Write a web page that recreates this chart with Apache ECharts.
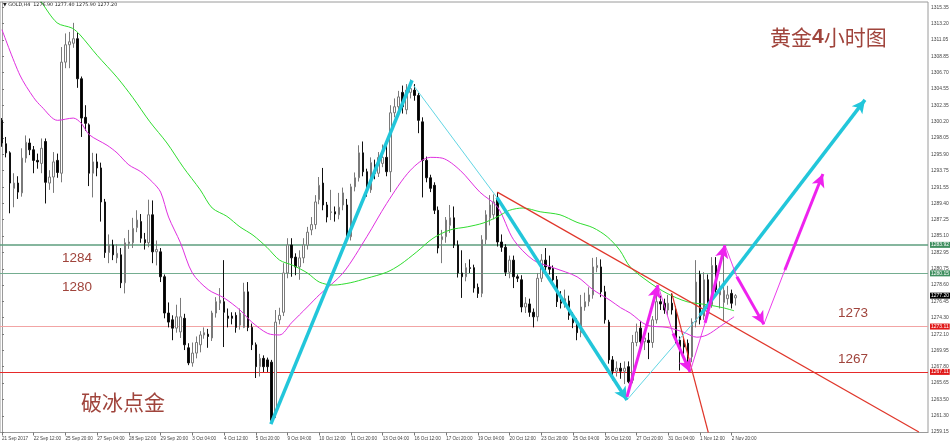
<!DOCTYPE html>
<html><head><meta charset="utf-8">
<script src="https://cdn.jsdelivr.net/npm/echarts@6/dist/echarts.min.js"></script>
<style>html,body{margin:0;padding:0;background:#fff}#c{width:950px;height:444px}</style>
</head><body><div id="c"></div>
<script>
// ---------- DATA ----------
const tradingDays = ['21 Sep','22 Sep','25 Sep','26 Sep','27 Sep','28 Sep','29 Sep','2 Oct','3 Oct','4 Oct','5 Oct','6 Oct',
  '9 Oct','10 Oct','11 Oct','12 Oct','13 Oct','16 Oct','17 Oct','18 Oct','19 Oct','20 Oct','23 Oct','24 Oct','25 Oct',
  '26 Oct','27 Oct','30 Oct','31 Oct','1 Nov','2 Nov','3 Nov'];
const hours = ['00:00','04:00','08:00','12:00','16:00','20:00'];
const firstTickLabel = '21 Sep 2017';
const headerText = '\u25BC GOLD,H4  1276.90 1277.40 1275.90 1277.20';

// [open, close, low, high]
const candles = [
[1300.4,1297.4,1296.9,1300.7],[1297.3,1296.1,1295.5,1298.2],[1296.1,1292.1,1288.1,1296.3],[1291.4,1292.1,1288.9,1293.4],
[1292.1,1290.9,1290.0,1293.0],[1290.8,1295.4,1290.3,1296.7],[1295.4,1297.5,1294.8,1298.4],[1297.4,1296.5,1295.8,1298.0],
[1296.5,1295.1,1293.4,1297.0],[1295.1,1294.9,1294.0,1296.0],[1294.7,1296.7,1293.4,1298.0],[1297.6,1292.2,1289.4,1298.0],
[1292.1,1292.9,1291.2,1293.8],[1292.9,1294.9,1290.8,1296.2],[1295.1,1293.5,1292.8,1296.0],[1293.4,1308.1,1292.2,1310.1],
[1308.1,1310.4,1307.3,1311.9],[1310.4,1310.8,1307.3,1312.1],[1310.6,1311.2,1310.0,1313.3],[1311.2,1305.9,1304.7,1312.0],
[1305.9,1300.7,1298.2,1306.2],[1300.8,1300.0,1299.0,1302.4],[1299.8,1293.4,1291.7,1300.0],[1293.4,1294.9,1290.2,1296.1],
[1294.9,1294.1,1293.0,1296.0],[1294.1,1289.6,1287.0,1294.8],[1289.6,1282.9,1282.2,1290.0],[1282.9,1283.9,1281.5,1285.3],
[1283.9,1282.6,1281.9,1284.6],[1282.2,1282.8,1281.5,1284.0],[1282.6,1278.9,1278.2,1283.5],[1278.9,1284.2,1277.5,1284.8],
[1284.1,1284.3,1283.4,1285.9],[1284.2,1286.1,1283.5,1287.5],[1286.2,1287.2,1285.6,1288.5],[1287.0,1284.8,1284.2,1288.0],
[1284.6,1284.2,1283.3,1285.5],[1284.2,1287.9,1283.6,1289.9],[1287.9,1283.0,1281.5,1289.8],[1283.0,1283.3,1281.2,1284.5],
[1283.0,1279.7,1279.0,1283.5],[1279.7,1274.9,1274.2,1280.0],[1274.9,1273.7,1273.0,1276.3],[1274.0,1272.9,1271.3,1274.6],
[1272.9,1274.4,1272.3,1276.0],[1272.4,1274.4,1271.6,1276.9],[1274.2,1270.7,1270.0,1274.8],[1270.3,1268.3,1268.0,1270.9],
[1268.3,1269.6,1267.8,1271.0],[1269.6,1271.0,1268.9,1271.8],[1270.7,1272.0,1269.7,1272.5],[1272.0,1272.3,1271.5,1273.0],
[1272.1,1271.8,1270.3,1272.8],[1271.6,1274.9,1271.2,1275.2],[1274.9,1276.4,1274.3,1277.0],[1276.2,1276.6,1275.3,1278.2],
[1276.4,1275.0,1270.4,1281.9],[1274.5,1274.2,1273.0,1275.5],[1274.5,1274.2,1273.4,1275.0],[1274.6,1273.0,1272.3,1275.0],
[1273.3,1274.9,1272.7,1275.5],[1273.0,1277.7,1272.9,1278.9],[1277.7,1273.0,1272.5,1279.0],[1273.0,1270.7,1270.0,1273.5],
[1270.7,1267.8,1266.3,1271.0],[1267.8,1268.9,1266.5,1269.5],[1268.9,1267.8,1267.1,1269.3],[1268.7,1267.8,1267.1,1269.0],
[1268.4,1260.7,1260.5,1268.7],[1261.7,1273.7,1261.0,1275.3],[1274.0,1274.6,1273.4,1275.6],[1275.0,1280.2,1274.5,1281.5],
[1280.2,1283.9,1279.5,1284.8],[1283.9,1282.2,1279.7,1284.8],[1282.3,1281.0,1279.9,1282.8],[1281.0,1282.2,1279.3,1283.2],
[1282.2,1283.9,1281.5,1284.8],[1283.9,1285.6,1283.3,1286.3],[1285.9,1286.6,1285.2,1287.6],[1286.6,1289.6,1286.0,1290.5],
[1289.9,1291.8,1289.3,1292.9],[1292.1,1289.2,1288.5,1294.1],[1289.2,1287.6,1286.9,1289.6],[1288.2,1288.3,1287.2,1291.2],
[1288.3,1288.0,1287.0,1289.0],[1287.9,1288.9,1287.3,1290.8],[1289.2,1290.8,1288.5,1291.5],[1289.2,1284.8,1284.2,1290.0],
[1285.0,1291.6,1284.5,1292.0],[1291.6,1292.8,1291.0,1293.5],[1292.8,1296.1,1292.3,1297.1],[1296.1,1293.6,1293.0,1297.6],
[1293.6,1291.2,1290.3,1294.0],[1291.2,1294.8,1290.8,1295.5],[1294.5,1293.4,1292.6,1295.2],[1293.4,1295.5,1292.9,1296.2],
[1294.7,1295.5,1294.2,1297.2],[1295.5,1293.6,1293.0,1297.1],[1293.6,1301.4,1290.9,1302.4],[1301.4,1302.2,1300.8,1303.3],
[1302.2,1303.5,1301.5,1304.3],[1304.1,1302.2,1301.3,1305.0],[1301.8,1304.4,1301.2,1305.2],[1304.1,1304.6,1303.3,1305.8],
[1304.4,1303.7,1303.0,1305.2],[1303.7,1300.4,1298.7,1304.0],[1300.2,1295.1,1290.2,1300.8],[1295.1,1292.8,1292.2,1295.6],
[1292.8,1291.4,1290.9,1293.2],[1291.8,1288.5,1288.0,1292.2],[1288.5,1283.5,1282.8,1289.0],[1284.6,1285.0,1281.5,1285.9],
[1285.0,1287.2,1284.2,1287.6],[1286.5,1287.5,1285.5,1289.2],[1287.5,1283.9,1283.5,1289.0],[1283.9,1280.2,1279.6,1284.5],
[1280.2,1279.7,1276.9,1283.2],[1279.7,1280.9,1279.1,1281.5],[1280.9,1280.8,1280.2,1282.0],[1280.9,1278.2,1277.6,1281.3],
[1278.3,1277.5,1276.9,1278.8],[1277.5,1284.6,1277.0,1285.2],[1284.6,1287.9,1284.0,1288.5],[1287.5,1289.2,1286.5,1290.5],
[1287.9,1289.6,1287.3,1290.6],[1290.1,1284.3,1283.7,1290.9],[1284.3,1283.6,1283.0,1285.3],[1283.6,1280.3,1279.8,1284.0],
[1280.3,1281.9,1279.5,1282.5],[1281.9,1279.7,1278.2,1282.5],[1279.7,1279.5,1279.0,1280.0],[1279.3,1275.7,1275.0,1279.9],
[1275.7,1276.2,1274.9,1277.0],[1276.1,1275.0,1274.4,1276.8],[1275.0,1274.4,1273.0,1275.5],[1274.4,1279.5,1273.8,1280.2],
[1279.5,1281.9,1279.0,1282.7],[1281.9,1281.0,1280.5,1283.5],[1281.0,1280.7,1280.0,1282.5],[1280.8,1279.3,1278.6,1281.2],
[1279.3,1276.4,1275.7,1279.8],[1276.4,1276.2,1275.5,1277.8],[1276.3,1276.8,1275.6,1278.0],[1276.5,1274.6,1274.0,1277.2],
[1274.6,1273.6,1272.9,1275.0],[1273.6,1272.3,1271.3,1274.2],[1272.3,1275.7,1271.7,1277.3],[1275.7,1276.4,1275.2,1277.6],
[1276.4,1277.3,1275.8,1278.3],[1277.3,1281.0,1276.8,1282.2],[1280.9,1281.2,1280.3,1282.3],[1281.0,1277.7,1277.0,1282.0],
[1277.7,1274.0,1273.5,1278.5],[1273.7,1268.7,1268.2,1274.0],[1268.7,1267.2,1266.0,1269.2],[1267.2,1267.6,1266.5,1268.5],
[1267.6,1267.2,1266.2,1268.3],[1267.2,1267.6,1265.5,1268.5],[1267.8,1265.8,1265.6,1268.5],[1266.0,1271.0,1265.6,1272.0],
[1271.0,1272.4,1270.5,1273.5],[1272.9,1271.1,1270.2,1273.8],[1271.1,1271.6,1270.0,1272.5],[1271.3,1271.0,1268.8,1272.3],
[1271.0,1274.0,1270.3,1274.5],[1274.0,1276.4,1273.5,1277.5],[1276.4,1276.1,1275.3,1277.2],[1276.2,1275.3,1274.8,1276.8],
[1275.3,1276.2,1274.6,1277.3],[1276.2,1275.3,1274.7,1277.5],[1275.3,1271.3,1270.8,1275.8],[1271.3,1270.3,1267.3,1271.8],
[1271.0,1270.4,1269.5,1271.5],[1270.9,1269.1,1268.2,1271.4],[1269.1,1273.7,1268.4,1274.2],[1273.7,1279.0,1273.0,1281.9],
[1280.0,1274.0,1273.4,1280.5],[1274.5,1279.3,1274.0,1280.3],[1279.3,1276.0,1275.4,1280.0],[1276.0,1281.2,1275.6,1282.3],
[1281.2,1278.0,1277.5,1282.3],[1277.3,1278.0,1275.5,1279.1],[1276.3,1277.9,1273.8,1283.7],[1276.8,1277.3,1276.0,1278.5],
[1277.5,1276.2,1275.5,1278.0],[1276.9,1277.2,1275.9,1277.4]
];

// moving averages: [bar index, price]
const magentaMA = [[0,1312.4],[4.5,1306.4],[8,1303.4],[10,1302.2],[14,1300.4],[18,1300.7],[20,1300.0],[22,1298.5],[26.5,1297.1],
[29,1296.1],[32,1294.5],[35,1293.6],[38,1292.2],[40,1290.9],[42,1287.6],[45,1284.2],[48,1280.2],[52,1278.0],[56,1276.9],
[60,1275.3],[63,1273.7],[67,1272.2],[70,1272.0],[73,1273.6],[77,1275.7],[80,1277.3],[86,1280.2],[92,1285.0],[97,1289.4],
[103,1293.8],[108,1295.5],[111,1295.4],[115.5,1293.8],[120.5,1290.9],[125,1288.9],[129,1284.6],[134,1281.9],[139,1280.9],
[145,1279.7],[149,1278.0],[153.3,1276.6],[156,1275.6],[158.4,1274.9],[162.6,1273.3],[167.7,1273.0],[171.7,1272.4],
[175.2,1271.7],[177.8,1272.0],[181,1273.1],[184.6,1274.4]];
const greenMA = [[5,1319.5],[9.6,1316.3],[13.9,1313.3],[17.7,1312.6],[19.7,1311.7],[24,1309.0],[29,1306.1],[33,1303.4],
[37.3,1300.2],[41.6,1297.4],[45.7,1294.2],[50,1291.2],[53,1288.8],[56.7,1287.7],[60,1286.3],[63.3,1285.2],[66.8,1283.6],
[70,1281.9],[73.4,1281.2],[77,1280.2],[80,1279.0],[83.5,1278.6],[87.8,1278.9],[92,1279.5],[97,1280.3],[100.4,1281.3],
[104.6,1283.0],[108.7,1284.8],[113,1285.9],[117.3,1286.3],[121.3,1286.8],[124.8,1287.6],[128,1288.5],[131.4,1288.8],
[135.7,1288.3],[140.7,1287.9],[145,1286.9],[149,1286.2],[152.6,1285.0],[155.8,1283.2],[158.4,1281.0],[163.4,1278.9],
[167.7,1277.5],[172.7,1276.4],[177.8,1276.0],[181.8,1275.6],[184.6,1275.2]];

const priceTicks = [1259.15,1261.30,1263.50,1265.65,1267.80,1269.95,1272.10,1274.30,1276.45,1278.60,1280.75,1282.95,
1285.10,1287.25,1289.40,1291.55,1293.75,1295.90,1298.05,1300.20,1302.35,1304.55,1306.70,1308.85,1311.05,1313.20,1315.35];

const levelValues = [1283.92, 1280.15, 1273.11, 1267.11];
const currentPrice = 1277.20;

// drawn objects: segments [[bar, price],[bar, price]]
const cyanThick = [[[67.8,1260.2],[103.4,1305.7]], [[124.8,1290.2],[157.6,1263.4]], [[176,1274.6],[217.6,1303.1]]];
const cyanThin  = [[[103.8,1305.0],[124.8,1290.2]], [[157.6,1263.4],[176,1274.6]]];
const redLines  = [[[124.9,1290.9],[231.2,1259.15]], [[168.9,1277.5],[178.1,1259.09]]];
const magentaThick = [[[157.6,1263.8],[165.4,1278.6]], [[169.2,1272.2],[173.5,1267.1]], [[177.3,1273.6],[182.3,1283.9]],
  [[185.3,1279.7],[192.1,1273.4]], [[197.4,1280.6],[207,1293.3]]];
const magentaThin = [[[165.4,1278.6],[169.2,1272.2]], [[173.5,1267.1],[177.3,1273.6]], [[182.3,1283.9],[185.3,1279.7]],
  [[192.1,1273.4],[197.4,1280.6]]];

const textLevels = ['1284','1280','1273','1267'];
const titleCN = '黄金4小时图';
const signCN = '破冰点金';

// ---------- BUILD ----------
const totalSlots = 234;
const allTimes = [];
tradingDays.forEach(d => hours.forEach(h => allTimes.push(d + ' ' + h)));
const categories = allTimes.slice(1, 1 + candles.length);
while (categories.length < totalSlots) categories.push('');

const levelColors = ['#5e9e7e', '#74ad90', '#f2a4a4', '#e62a2a'];
const levelWidths = [1.5, 1, 1, 1];
const levelBg = ['#3f8f5f', '#3f8f5f', '#e01818', '#e01818'];

const labelCommon = {show: true, position: 'end', distance: 2, color: '#fff', fontSize: 5,
  fontFamily: 'Liberation Sans', padding: [1, 1, 0, 1]};
const levelLines = levelValues.map((v, i) => ({
  yAxis: v,
  lineStyle: {color: levelColors[i], width: levelWidths[i], type: 'solid'},
  label: Object.assign({}, labelCommon, {formatter: v.toFixed(2), backgroundColor: levelBg[i]})
}));
levelLines.push({yAxis: currentPrice, lineStyle: {color: 'rgba(0,0,0,0)', width: 0},
  label: Object.assign({}, labelCommon, {formatter: currentPrice.toFixed(2), backgroundColor: '#000'})});

function seg(pts, color, width, arrow) {
  return [
    {coord: pts[0], symbol: 'none', lineStyle: {color: color, width: width, type: 'solid', opacity: 1}},
    {coord: pts[1], symbol: arrow ? 'arrow' : 'none', symbolSize: [10, 13]}
  ];
}
const drawn = [];
redLines.forEach(s => drawn.push(seg(s, '#e0362a', 1.2, false)));
cyanThin.forEach(s => drawn.push(seg(s, '#62d6e4', 1, false)));
cyanThick.forEach((s, i) => drawn.push(seg(s, '#22c6da', 3.5, i > 0)));
magentaThin.forEach(s => drawn.push(seg(s, '#ec3cec', 1, false)));
magentaThick.forEach(s => drawn.push(seg(s, '#ee22ee', 3, true)));

const chart = echarts.init(document.getElementById('c'), null, {renderer: 'canvas'});
const labelColor = '#a0443c';
chart.setOption({
  animation: false,
  backgroundColor: '#fff',
  textStyle: {fontFamily: 'Liberation Sans'},
  grid: {left: 0, right: 22, top: 2, bottom: 11.5, containLabel: false, outerBoundsMode: 'none',
    show: true, borderColor: '#9a9a9a', borderWidth: 1, backgroundColor: '#fff'},
  xAxis: [{
    type: 'category', data: categories, boundaryGap: true,
    axisLine: {show: true, lineStyle: {color: '#9a9a9a', width: 1}},
    axisTick: {show: true, alignWithLabel: true, length: 3, lineStyle: {color: '#777'},
      interval: (idx, val) => idx % 8 === 0 && val !== ''},
    axisLabel: {show: true, fontSize: 4.6, color: '#444', align: 'left', margin: 4,
      interval: (idx, val) => idx % 8 === 0 && val !== '',
      formatter: (val, idx) => idx === 0 ? firstTickLabel : val},
    splitLine: {show: false}
  }, {
    type: 'value', min: -0.5, max: totalSlots - 0.5, show: false
  }],
  yAxis: [{
    type: 'value', position: 'right', min: 1259.09, max: 1316.06, scale: true,
    axisLine: {show: true, lineStyle: {color: '#9a9a9a', width: 1}},
    axisTick: {show: true, length: 2, lineStyle: {color: '#777'}, customValues: priceTicks},
    axisLabel: {show: true, fontSize: 4.9, color: '#444', margin: 3, customValues: priceTicks,
      formatter: v => Number(v).toFixed(2)},
    splitLine: {show: false}
  }],
  series: [
    {
      type: 'candlestick', xAxisIndex: 0, yAxisIndex: 0, data: candles, barWidth: 2,
      itemStyle: {color: '#ffffff', color0: '#000000', borderColor: '#7a7a7a', borderColor0: '#111111', borderWidth: 1},
      z: 3,
      markLine: {silent: true, symbol: ['none', 'none'], animation: false, data: levelLines, z: 2}
    },
    {
      type: 'line', xAxisIndex: 1, yAxisIndex: 0, data: magentaMA, smooth: 0.3, symbol: 'none',
      lineStyle: {color: '#e030e0', width: 1}, z: 4, silent: true
    },
    {
      type: 'line', xAxisIndex: 1, yAxisIndex: 0, data: greenMA, smooth: 0.3, symbol: 'none',
      lineStyle: {color: '#30dc30', width: 1}, z: 4, silent: true,
      markLine: {silent: true, symbol: ['none', 'none'], animation: false, label: {show: false}, data: drawn}
    }
  ],
  graphic: [
    {type: 'text', left: 3, top: 2, z: 10, style: {text: headerText, fontSize: 4.8, fill: '#222', fontFamily: 'DejaVu Sans'}},
    {type: 'text', left: 62, top: 251, z: 10, style: {text: textLevels[0], fontSize: 13.5, fill: labelColor, fontFamily: 'Liberation Sans'}},
    {type: 'text', left: 62, top: 280, z: 10, style: {text: textLevels[1], fontSize: 13.5, fill: labelColor, fontFamily: 'Liberation Sans'}},
    {type: 'text', left: 838, top: 306, z: 10, style: {text: textLevels[2], fontSize: 13.5, fill: labelColor, fontFamily: 'Liberation Sans'}},
    {type: 'text', left: 838, top: 352, z: 10, style: {text: textLevels[3], fontSize: 13.5, fill: labelColor, fontFamily: 'Liberation Sans'}},
    {type: 'text', left: 81, top: 392, z: 10, style: {text: signCN, fontSize: 21, fill: labelColor, fontFamily: 'Noto Sans CJK SC'}},
    {type: 'text', left: 770, top: 27, z: 10, style: {
      text: '{a|' + titleCN.slice(0, 2) + '}{b|' + titleCN.slice(2, 3) + '}{a|' + titleCN.slice(3) + '}',
      rich: {a: {fontSize: 21, fill: labelColor, color: labelColor, fontFamily: 'Noto Sans CJK SC'},
             b: {fontSize: 21, fontWeight: 'bold', fill: labelColor, color: labelColor, fontFamily: 'Liberation Sans'}}
    }}
  ]
});
</script>
</body></html>
